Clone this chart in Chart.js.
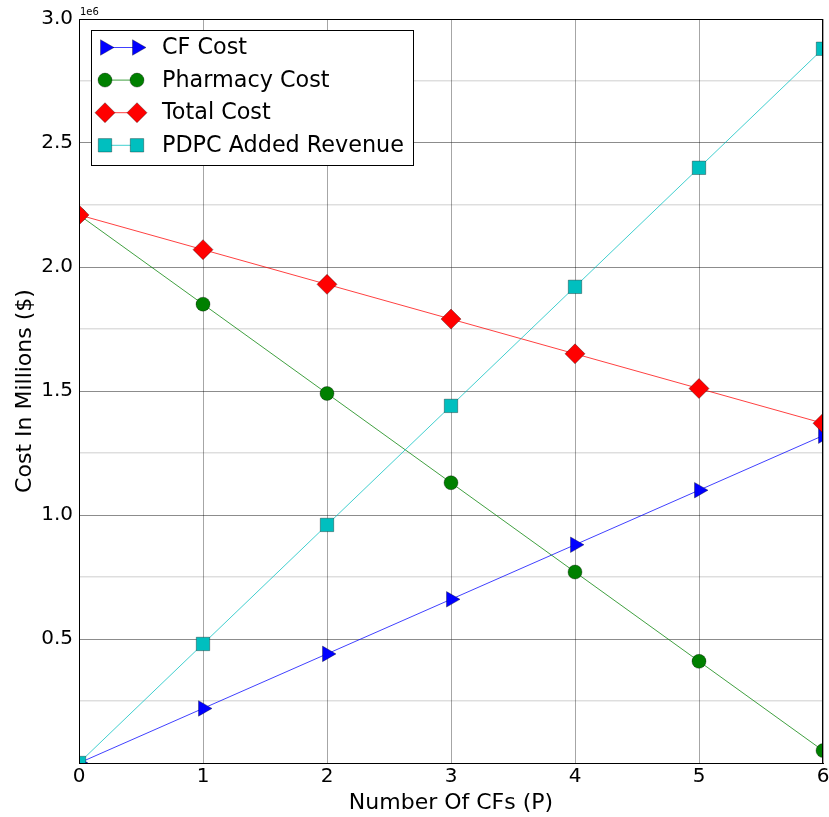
<!DOCTYPE html>
<html>
<head>
<meta charset="utf-8">
<script src="https://cdn.jsdelivr.net/npm/chart.js@4/dist/chart.umd.min.js"></script>
<style>
  html, body { margin: 0; padding: 0; background: #fff; }
  #wrap { width: 829px; height: 817px; }
</style>
</head>
<body>
<div id="wrap"><canvas id="costChart" width="829" height="817"></canvas></div>
<script>
// data
const numCFs = [0, 1, 2, 3, 4, 5, 6];
const cfCost = [0, 0.22e6, 0.44e6, 0.66e6, 0.88e6, 1.10e6, 1.32e6];
const pharmacyCost = [2.21e6, 1.85e6, 1.49e6, 1.13e6, 0.77e6, 0.41e6, 0.05e6];
const totalCost = [2.21e6, 2.07e6, 1.93e6, 1.79e6, 1.65e6, 1.51e6, 1.37e6];
const pdpcRevenue = [0, 0.48e6, 0.96e6, 1.44e6, 1.92e6, 2.40e6, 2.88e6];
const seriesNames = ['CF Cost', 'Pharmacy Cost', 'Total Cost', 'PDPC Added Revenue'];
const xTicks = [0, 1, 2, 3, 4, 5, 6];
const yTickLabels = ['0.5', '1.0', '1.5', '2.0', '2.5', '3.0'];

const FONT = "'DejaVu Sans', sans-serif";

function pts(ys) {
    return numCFs.map((x, i) => ({ x: x, y: ys[i] }));
}

function makeSet(label, ys, line, fill, style, radius, rot, order) {
    return {
        label: label,
        data: pts(ys),
        borderColor: line,
        borderWidth: 1,
        pointStyle: style,
        pointRotation: rot,
        pointRadius: radius,
        pointHoverRadius: radius,
        pointBackgroundColor: fill,
        pointBorderColor: 'rgba(0,0,0,0.55)',
        pointBorderWidth: 0.6,
        tension: 0,
        fill: false,
        clip: 0,
        order: order
    };
}

const datasets = [
    makeSet(seriesNames[0], cfCost, 'rgba(0,0,255,0.75)', '#0000ff', 'triangle', 9, 90, 3),
    makeSet(seriesNames[1], pharmacyCost, 'rgba(0,128,0,0.75)', '#008000', 'circle', 7, 0, 2),
    makeSet(seriesNames[2], totalCost, 'rgba(255,0,0,0.75)', '#ff0000', 'rectRot', 10, 0, 1),
    makeSet(seriesNames[3], pdpcRevenue, 'rgba(0,191,191,0.75)', '#00bfbf', 'rect', 9.5, 0, 0)
];

// frame, offset label and matplotlib-like legend
const extras = {
    id: 'extras',
    afterDraw(chart) {
        const ctx = chart.ctx;
        const a = chart.chartArea;
        ctx.save();
        ctx.strokeStyle = '#000';
        ctx.lineWidth = 1;
        ctx.strokeRect(a.left + 0.5, a.top + 0.5, a.right - a.left - 1, a.bottom - a.top);

        ctx.fillStyle = '#000';
        ctx.font = '10px ' + FONT;
        ctx.textBaseline = 'bottom';
        ctx.textAlign = 'left';
        ctx.fillText('1e6', a.left + 1, a.top - 2);

        // legend
        const bx = 91, by = 30, bw = 322, bh = 135;
        ctx.fillStyle = '#fff';
        ctx.fillRect(bx, by, bw, bh);
        ctx.strokeRect(bx + 0.5, by + 0.5, bw, bh);
        chart.data.datasets.forEach((ds, i) => {
            const cy = 47.5 + i * 32.6;
            const x1 = 105, x2 = 137;
            ctx.strokeStyle = ds.borderColor;
            ctx.lineWidth = 1;
            ctx.beginPath();
            ctx.moveTo(x1, cy);
            ctx.lineTo(x2, cy);
            ctx.stroke();
            const opts = {
                pointStyle: ds.pointStyle,
                rotation: ds.pointRotation,
                radius: ds.pointRadius,
                borderWidth: ds.pointBorderWidth
            };
            ctx.fillStyle = ds.pointBackgroundColor;
            ctx.strokeStyle = ds.pointBorderColor;
            ctx.lineWidth = ds.pointBorderWidth;
            Chart.helpers.drawPoint(ctx, opts, x1, cy);
            ctx.fillStyle = ds.pointBackgroundColor;
            ctx.strokeStyle = ds.pointBorderColor;
            Chart.helpers.drawPoint(ctx, opts, x2, cy);
            ctx.fillStyle = '#000';
            ctx.font = '22.3px ' + FONT;
            ctx.textBaseline = 'middle';
            ctx.textAlign = 'left';
            ctx.fillText(ds.label, 162, cy + 1);
        });
        ctx.restore();
    }
};

new Chart(document.getElementById('costChart').getContext('2d'), {
    type: 'line',
    data: { datasets: datasets },
    options: {
        responsive: false,
        animation: false,
        events: [],
        layout: {
            autoPadding: false,
            padding: { left: 0, right: 6, top: 19, bottom: 0 }
        },
        plugins: {
            legend: { display: false },
            tooltip: { enabled: false }
        },
        scales: {
            x: {
                type: 'linear',
                min: 0,
                max: 6,
                afterBuildTicks(scale) {
                    scale.ticks = xTicks.map(v => ({ value: v }));
                },
                afterFit(scale) {
                    scale.height = 54;
                    scale.paddingLeft = 0;
                    scale.paddingRight = 0;
                },
                ticks: {
                    color: '#000',
                    font: { family: FONT, size: 20 },
                    padding: 2,
                    maxRotation: 0,
                    autoSkip: false
                },
                grid: {
                    color: 'rgba(0,0,0,0.35)',
                    lineWidth: 1,
                    drawTicks: false
                },
                border: { color: '#000', width: 1 },
                title: {
                    display: true,
                    text: 'Number Of CFs (P)',
                    color: '#000',
                    font: { family: FONT, size: 22 },
                    padding: { top: 0, bottom: 1 }
                }
            },
            y: {
                min: 0,
                max: 3e6,
                afterBuildTicks(scale) {
                    const t = [];
                    for (let k = 0; k <= 12; k++) t.push({ value: k * 0.25e6 });
                    scale.ticks = t;
                },
                afterFit(scale) {
                    scale.width = 79;
                    scale.paddingTop = 0;
                    scale.paddingBottom = 0;
                },
                ticks: {
                    color: '#000',
                    font: { family: FONT, size: 20 },
                    padding: 6,
                    autoSkip: false,
                    callback(value) {
                        const k = Math.round(value / 0.5e6);
                        if (k > 0 && Math.abs(value - k * 0.5e6) < 1) return yTickLabels[k - 1];
                        return '';
                    }
                },
                grid: {
                    color(c) {
                        const v = c.tick ? c.tick.value : 0;
                        return Math.round(v / 0.25e6) % 2 === 0 ? 'rgba(0,0,0,0.45)' : 'rgba(0,0,0,0.13)';
                    },
                    lineWidth(c) {
                        const v = c.tick ? c.tick.value : 0;
                        return Math.round(v / 0.25e6) % 2 === 0 ? 1 : 1.5;
                    },
                    drawTicks: false
                },
                border: { color: '#000', width: 1 },
                title: {
                    display: true,
                    text: 'Cost In Millions ($)',
                    color: '#000',
                    font: { family: FONT, size: 22 },
                    padding: { top: 12, bottom: 0 }
                }
            }
        }
    },
    plugins: [extras]
});
</script>
</body>
</html>
